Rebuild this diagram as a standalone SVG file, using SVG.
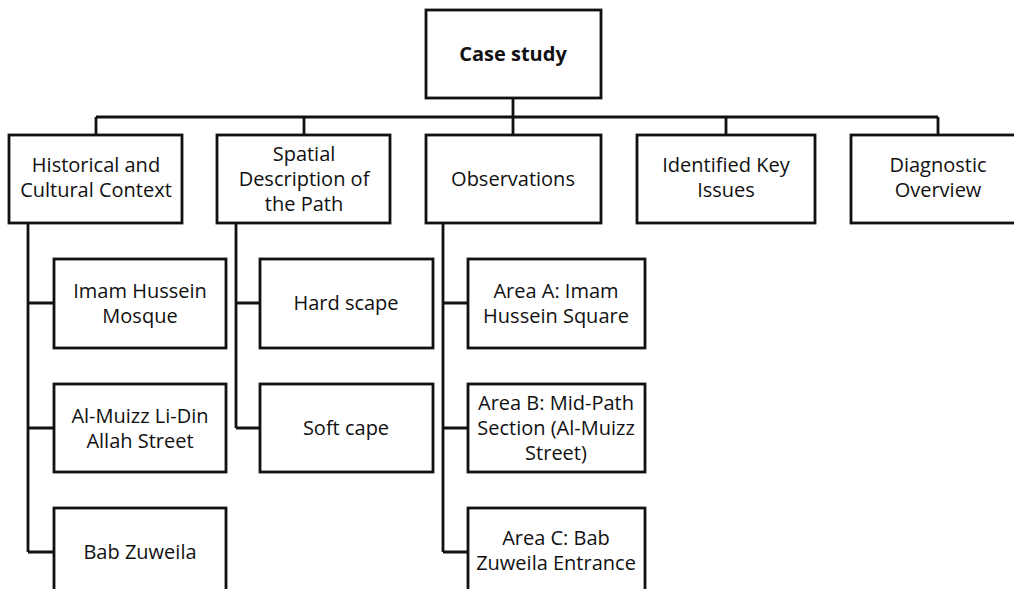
<svg xmlns="http://www.w3.org/2000/svg" width="1014" height="589" viewBox="0 0 1014 589">
<style>
.box{fill:#fff;stroke:#111;stroke-width:2.8}
.ln{fill:none;stroke:#111;stroke-width:2.8}
text{font-family:"Open Sans","Noto Sans",sans-serif;font-size:20px;fill:#111;text-anchor:middle}
.b{font-weight:bold}
</style>
<rect width="1014" height="589" fill="#fff"/>
<g id="connectors">
<path class="ln" d="M513 98V135M96 117H938M96 117V135M304 117V135M726 117V135M938 117V135"/>
<path class="ln" d="M28 223V552M28 303H54M28 428H54M28 552H54"/>
<path class="ln" d="M236 223V428M236 303H260M236 428H260"/>
<path class="ln" d="M443 223V552M443 303H468M443 428H468M443 552H468"/>
</g>
<g id="case-study"><rect class="box" x="426" y="10" width="175" height="88"/><text class="b" x="513" y="61">Case study</text></g>
<g id="historical"><rect class="box" x="9" y="135" width="173" height="88"/><text x="96" y="172">Historical and</text><text x="96" y="197">Cultural Context</text></g>
<g id="spatial"><rect class="box" x="217" y="135" width="173" height="88"/><text x="304" y="161">Spatial</text><text x="304" y="186">Description of</text><text x="304" y="211">the Path</text></g>
<g id="observations"><rect class="box" x="426" y="135" width="175" height="88"/><text x="513" y="186">Observations</text></g>
<g id="key-issues"><rect class="box" x="637" y="135" width="178" height="88"/><text x="726" y="172">Identified Key</text><text x="726" y="197">Issues</text></g>
<g id="diagnostic"><rect class="box" x="851" y="135" width="175" height="88"/><text x="938" y="172">Diagnostic</text><text x="938" y="197">Overview</text></g>
<g id="imam-mosque"><rect class="box" x="54" y="259" width="172" height="89"/><text x="140" y="298">Imam Hussein</text><text x="140" y="323">Mosque</text></g>
<g id="al-muizz"><rect class="box" x="54" y="384" width="172" height="88"/><text x="140" y="423">Al-Muizz Li-Din</text><text x="140" y="448">Allah Street</text></g>
<g id="bab-zuweila"><rect class="box" x="54" y="508" width="172" height="100"/><text x="140" y="559">Bab Zuweila</text></g>
<g id="hard-scape"><rect class="box" x="260" y="259" width="173" height="89"/><text x="346" y="310">Hard scape</text></g>
<g id="soft-cape"><rect class="box" x="260" y="384" width="173" height="88"/><text x="346" y="435">Soft cape</text></g>
<g id="area-a"><rect class="box" x="468" y="259" width="177" height="89"/><text x="556" y="298">Area A: Imam</text><text x="556" y="323">Hussein Square</text></g>
<g id="area-b"><rect class="box" x="468" y="384" width="177" height="88"/><text x="556" y="410">Area B: Mid-Path</text><text x="556" y="435">Section (Al-Muizz</text><text x="556" y="460">Street)</text></g>
<g id="area-c"><rect class="box" x="468" y="508" width="177" height="100"/><text x="556" y="545">Area C: Bab</text><text x="556" y="570">Zuweila Entrance</text></g>
</svg>
